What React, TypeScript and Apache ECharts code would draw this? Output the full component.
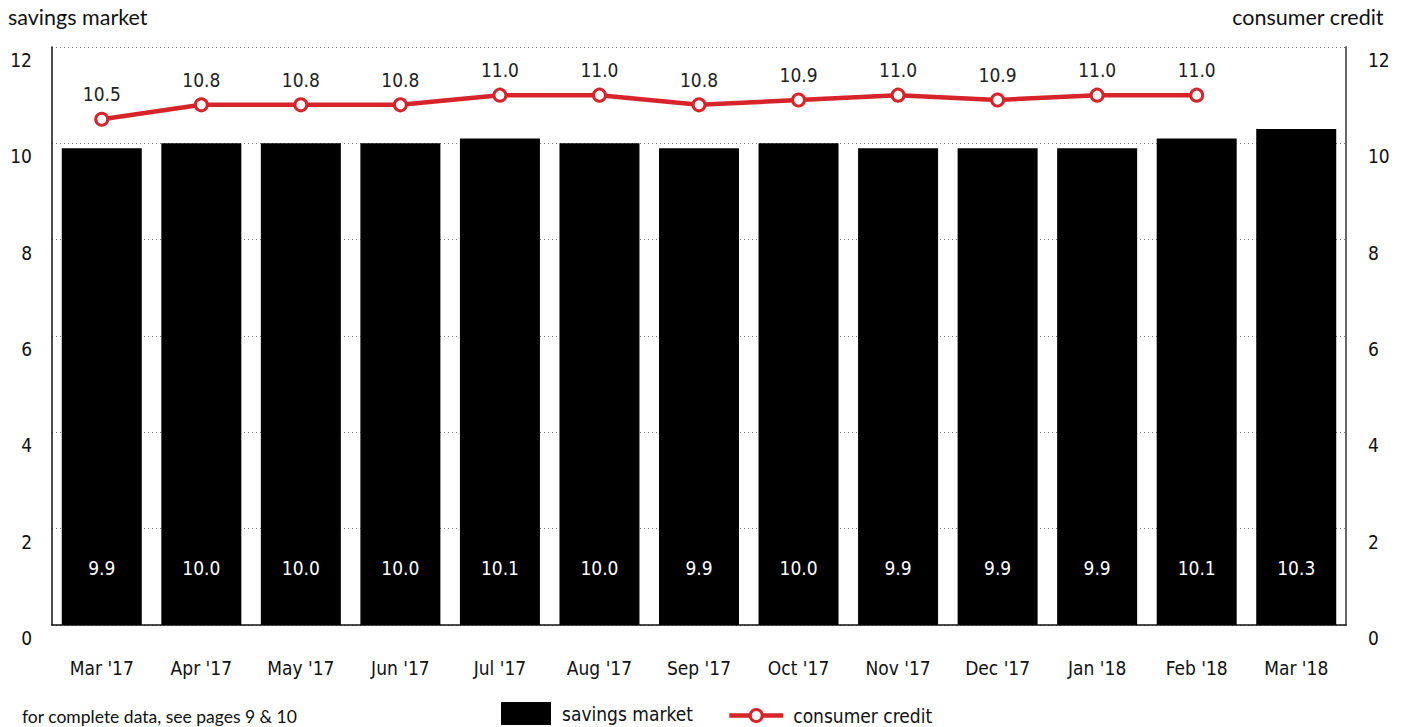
import React, { useEffect, useRef } from "react";
import * as echarts from "echarts";

const categories = ["Mar '17", "Apr '17", "May '17", "Jun '17", "Jul '17", "Aug '17", "Sep '17", "Oct '17", "Nov '17", "Dec '17", "Jan '18", "Feb '18", "Mar '18"];
const savingsMarket = [9.9, 10.0, 10.0, 10.0, 10.1, 10.0, 9.9, 10.0, 9.9, 9.9, 9.9, 10.1, 10.3];
const consumerCredit = [10.5, 10.8, 10.8, 10.8, 11.0, 11.0, 10.8, 10.9, 11.0, 10.9, 11.0, 11.0, null];
const yTicks = [0, 2, 4, 6, 8, 10, 12];

const COND = "'Liberation Sans Narrow', 'DejaVu Sans Condensed', 'Roboto', sans-serif";
const SANS = "'Lato', 'Noto Sans', sans-serif";
const RED = "#d7242b";

export default function App() {
  const ref = useRef<HTMLDivElement>(null);
  useEffect(() => {
    if (!ref.current) return;
    const chart = echarts.init(ref.current, undefined, { renderer: "svg" });
    const yMax = yTicks[yTicks.length - 1];
    const axisLabel = {
      fontFamily: COND,
      fontSize: 19,
      color: "#111",
      verticalAlign: "top",
      lineHeight: 26,
    };
    chart.setOption({
      animation: false,
      backgroundColor: "#fff",
      title: [
        { text: "savings market", left: 3, top: 1, textStyle: { fontFamily: SANS, fontSize: 21.5, fontWeight: "normal", color: "#111" } },
        { text: "consumer credit", right: 12, top: 1, textStyle: { fontFamily: SANS, fontSize: 21.5, fontWeight: "normal", color: "#111" } },
      ],
      legend: [
        {
          data: [{ name: "savings market", icon: "rect" }],
          left: 501,
          top: 702,
          padding: 0,
          itemWidth: 50,
          itemHeight: 23,
          itemGap: 10,
          textStyle: { fontFamily: COND, fontSize: 19, color: "#111", padding: [0, 0, 0, 6] },
          selectedMode: false,
        },
        {
          data: ["consumer credit"],
          left: 727,
          top: 706,
          padding: 0,
          itemWidth: 54,
          itemHeight: 15,
          lineStyle: { width: 4.5, color: RED },
          itemStyle: { color: "#fff", borderColor: RED, borderWidth: 3 },
          textStyle: { fontFamily: COND, fontSize: 19, color: "#111", padding: [0, 0, 0, 5] },
          selectedMode: false,
        },
      ],
      graphic: [
        {
          type: "text",
          left: 22,
          top: 707,
          style: { text: "for complete data, see pages 9 & 10", font: `17.5px ${SANS}`, fill: "#111" },
        },
      ],
      grid: { left: 52, right: 55, top: 47, bottom: 102 },
      xAxis: {
        type: "category",
        data: categories,
        axisTick: { show: false },
        axisLine: { lineStyle: { color: "#111", width: 1.5 } },
        axisLabel: { fontFamily: COND, fontSize: 19, fontWeight: 500, color: "#111", margin: 33 },
      },
      yAxis: [
        {
          type: "value",
          min: 0,
          max: yMax,
          interval: 2,
          position: "left",
          axisLine: { show: true, lineStyle: { color: "#111", width: 1.5 } },
          axisTick: { show: false },
          axisLabel: { ...axisLabel, margin: 20 },
          splitLine: { show: true, lineStyle: { color: "#777", type: [1, 3], width: 1 } },
        },
        {
          type: "value",
          min: 0,
          max: yMax,
          interval: 2,
          position: "right",
          axisLine: { show: true, lineStyle: { color: "#666", width: 2 } },
          axisTick: { show: false },
          axisLabel: { ...axisLabel, margin: 22 },
          splitLine: { show: false },
        },
      ],
      series: [
        {
          name: "savings market",
          type: "bar",
          data: savingsMarket,
          barWidth: 80,
          itemStyle: { color: "#000" },
          label: {
            show: true,
            position: "insideBottom",
            distance: 48,
            color: "#fff",
            fontFamily: COND,
            fontSize: 19,
            formatter: (p: any) => p.value.toFixed(1),
          },
          z: 2,
        },
        {
          name: "consumer credit",
          type: "line",
          yAxisIndex: 1,
          data: consumerCredit,
          symbol: "circle",
          symbolSize: 12,
          lineStyle: { color: RED, width: 4.5 },
          itemStyle: { color: "#fff", borderColor: RED, borderWidth: 3 },
          label: {
            show: true,
            position: "top",
            distance: 8,
            color: "#222",
            fontFamily: COND,
            fontSize: 19,
            formatter: (p: any) => (p.value == null ? "" : Number(p.value).toFixed(1)),
          },
          z: 3,
        },
      ],
    });
    return () => chart.dispose();
  }, []);
  return <div ref={ref} style={{ position: "fixed", left: 0, top: 0, width: 1401, height: 727 }} />;
}
